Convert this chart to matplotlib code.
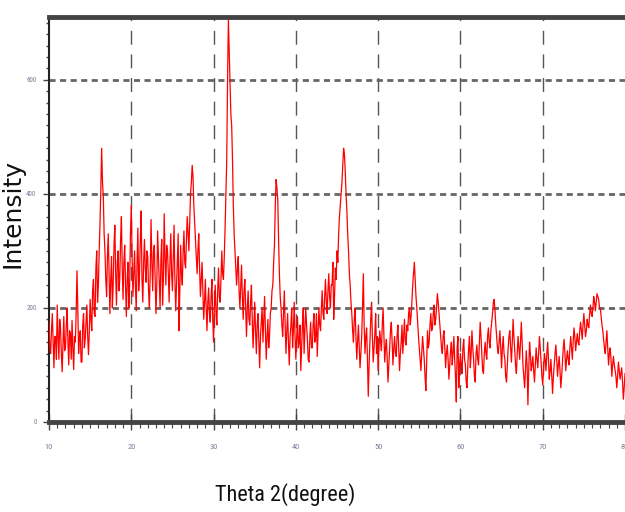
import numpy as np
import matplotlib
matplotlib.use("Agg")
import matplotlib.pyplot as plt
from matplotlib.ticker import MultipleLocator
from matplotlib import font_manager

# ---- data: 2-theta from 10 to 80 deg, step 0.1 deg ----
theta_start = 10.0
theta_step = 0.1
rows = [
    [175,130,120,160,190,140,95,150,150,110],   # 10
    [205,150,110,180,165,120,88,140,185,125],   # 11
    [130,170,200,140,100,160,155,110,178,130],  # 12
    [92,150,140,190,265,200,120,150,160,105],   # 13
    [105,170,190,130,145,175,205,150,118,160],  # 14
    [215,180,160,230,250,190,185,270,300,210],  # 15
    [240,300,350,410,480,420,395,330,300,250],  # 16
    [220,290,330,260,190,250,290,200,240,310],  # 17
    [345,260,205,280,300,230,250,320,360,270],  # 18
    [215,280,310,240,185,250,280,200,240,330],  # 19
    [380,290,220,260,300,240,195,280,340,230],  # 20
    [260,320,370,250,210,280,320,270,245,300],  # 21
    [290,230,200,260,355,280,230,300,310,250],  # 22
    [190,240,335,290,250,200,285,320,205,250],  # 23
    [365,290,240,310,300,260,210,280,330,260],  # 24
    [230,290,345,250,195,240,290,330,160,230],  # 25
    [310,260,240,300,335,280,270,320,360,330],  # 26
    [300,350,400,420,450,430,380,350,320,290],  # 27
    [260,300,330,270,220,250,280,230,180,210],  # 28
    [250,200,160,210,235,190,175,220,250,180],  # 29
    [140,200,240,190,170,230,270,220,210,250],  # 30
    [300,260,250,290,340,400,460,600,705,650],  # 31
    [600,540,520,460,380,330,300,270,240,270],  # 32
    [290,230,200,240,275,220,180,230,250,200],  # 33
    [150,200,230,180,170,210,240,180,130,170],  # 34
    [210,160,120,170,190,140,95,150,175,200],   # 35
    [140,180,220,160,110,150,180,130,150,190],  # 36
    [200,230,240,280,310,380,425,410,390,320],  # 37
    [260,220,200,170,150,190,230,170,120,160],  # 38
    [190,140,100,150,170,200,130,160,210,150],  # 39
    [110,150,185,130,140,170,90,130,170,200],   # 40
    [120,160,200,170,145,110,105,150,175,130],  # 41
    [130,170,190,140,150,190,115,160,200,170],  # 42
    [160,200,230,190,180,220,250,210,190,230],  # 43
    [260,220,200,240,240,280,180,220,270,250],  # 44
    [300,280,330,360,380,400,420,450,480,470],  # 45
    [440,400,370,330,300,260,240,210,190,160],  # 46
    [140,180,200,150,110,140,170,130,95,120],   # 47
    [150,200,260,170,120,150,165,110,45,100],   # 48
    [140,180,210,150,105,130,155,190,120,150],  # 49
    [90,130,160,140,125,170,200,150,105,130],   # 50
    [145,110,70,100,130,160,175,140,100,130],   # 51
    [150,120,115,150,170,130,90,120,140,170],   # 52
    [120,150,180,140,135,170,160,190,200,170],  # 53
    [185,210,240,260,280,250,220,200,175,150],  # 54
    [130,110,90,120,150,130,110,80,55,110],     # 55
    [160,130,140,170,190,160,165,190,205,170],  # 56
    [180,200,225,210,190,170,150,130,120,150],  # 57
    [160,130,95,120,135,110,75,100,125,140],    # 58
    [100,120,150,110,80,35,130,150,60,100],     # 59
    [120,100,85,130,145,110,100,70,60,100],     # 60
    [130,150,95,120,160,130,110,80,70,120],     # 61
    [135,110,100,140,175,150,120,90,85,120],    # 62
    [140,120,110,150,165,140,130,160,175,190],  # 63
    [210,215,195,170,150,130,120,140,160,130],  # 64
    [95,130,150,120,110,80,70,100,130,150],     # 65
    [160,130,105,140,180,150,125,100,85,120],   # 66
    [150,130,110,140,175,140,100,80,60,90],     # 67
    [125,100,30,90,140,120,90,100,115,90],      # 68
    [70,100,130,110,95,120,150,130,105,80],     # 69
    [65,90,120,110,90,120,140,110,75,90],       # 70
    [110,80,50,80,100,120,135,110,80,100],      # 71
    [115,90,60,80,105,130,145,120,90,110],      # 72
    [125,110,100,130,150,130,110,140,165,150],  # 73
    [125,140,155,140,135,160,175,160,145,170],  # 74
    [190,170,150,160,180,170,165,190,205,190],  # 75
    [185,200,220,210,195,210,225,220,215,200],  # 76
    [200,185,170,160,145,130,120,140,160,130],  # 77
    [100,120,130,110,80,100,115,100,90,80],     # 78
    [60,80,105,90,75,85,95,70,40,60],           # 79
    [85],                                       # 80
]
intensity = [v for r in rows for v in r]
theta = theta_start + theta_step * np.arange(len(intensity))

x_ticks = [10, 20, 30, 40, 50, 60, 70, 80]
y_ticks = [0, 200, 400, 600]

names = {f.name for f in font_manager.fontManager.ttflist}
narrow = 'DejaVu Sans'
for cand in ['Liberation Sans Narrow', 'Roboto Condensed', 'Open Sans Condensed',
             'DejaVu Sans Condensed', 'Roboto', 'Liberation Sans']:
    if cand in names:
        narrow = cand
        break

fig = plt.figure(figsize=(6.25, 5.12), dpi=100)
ax = fig.add_axes([49/625, 1 - 422/512, 576/625, (422 - 17)/512])

ax.plot(theta, intensity, color='#ff0000', lw=0.9, zorder=3)

ax.set_xlim(10, 80)
ax.set_ylim(0, 710)
ax.set_xticks(x_ticks)
ax.set_yticks(y_ticks)
ax.xaxis.set_minor_locator(MultipleLocator(1))
ax.yaxis.set_minor_locator(MultipleLocator(20))

# grid
for xv in x_ticks[1:-1]:
    ax.axvline(xv, color='#555555', lw=1.0, dashes=(10, 7), zorder=1)
for yv in y_ticks[1:]:
    ax.axhline(yv, color='#666666', lw=2.0, dashes=(2.2, 1.6), zorder=1)

for s in ['top', 'bottom']:
    ax.spines[s].set_linewidth(3.5)
    ax.spines[s].set_color('#444444')
ax.spines['left'].set_linewidth(1.5)
ax.spines['left'].set_color('#222222')
ax.spines['right'].set_visible(False)

ax.tick_params(axis='x', which='major', direction='inout', length=12, width=1, color='#444444',
               labelsize=6, labelcolor='#7a7f99', pad=10)
ax.tick_params(axis='x', which='minor', direction='out', length=4, width=0.8, color='#444444')
ax.tick_params(axis='y', which='major', direction='out', length=4, width=1, color='#444444',
               labelsize=5, labelcolor='#7a7f99', pad=5)
ax.tick_params(axis='y', which='minor', direction='out', length=2, width=1, color='#444444')
for lab in ax.get_xticklabels() + ax.get_yticklabels():
    lab.set_family(narrow)

fig.text(12.5/625, 1 - 214/512, 'Intensity', rotation=90, ha='center', va='center',
         fontsize=18, color='#111111', family='DejaVu Sans')
fig.text(285/625, 1 - 495/512, 'Theta 2(degree)', ha='center', va='center',
         fontsize=16, color='#111111', family=narrow)

fig.savefig('out.png', dpi=100)
